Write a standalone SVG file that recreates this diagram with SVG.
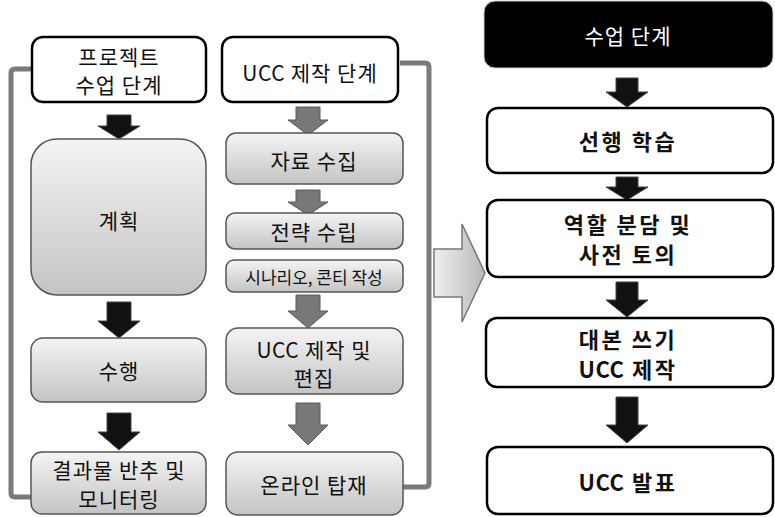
<svg xmlns="http://www.w3.org/2000/svg" width="775" height="517" viewBox="0 0 775 517">
<defs>
<linearGradient id="gbox" x1="0" y1="0" x2="0" y2="1">
<stop offset="0" stop-color="#f4f4f4"/>
<stop offset="1" stop-color="#c4c4c4"/>
</linearGradient>
<linearGradient id="gbig" x1="0" y1="0" x2="1" y2="0">
<stop offset="0" stop-color="#f0f0f0"/>
<stop offset="1" stop-color="#b8b8b8"/>
</linearGradient>
</defs>
<style>
text{font-family:"Noto Sans CJK KR","Noto Sans",sans-serif;text-anchor:middle;dominant-baseline:central;fill:#111}
.t{font-size:21px;letter-spacing:1px}
.s{font-size:17px}
.b{font-size:22px;font-weight:bold;letter-spacing:2.5px}
.u{letter-spacing:0.5px}
.white{fill:#fff;stroke:#000;stroke-width:2.5}
.gray{fill:url(#gbox);stroke:#555;stroke-width:1.5}
.blk{fill:#111;stroke:#444;stroke-width:1}
.gar{fill:#787878;stroke:#5a5a5a;stroke-width:1}
.br{fill:none;stroke:#7a7a7a;stroke-width:5;stroke-linejoin:round}
</style>
<g id="connectors">
<path class="br" d="M32,69 H15 Q11,69 11,73 V493 Q11,497 15,497 H32"/>
<path class="br" d="M400,63 H425 Q429,63 429,67 V483 Q429,487 425,487 H403"/>
<polygon class="blk" points="107,115 131,115 131,126 140,126 119,139 98,126 107,126"/>
<polygon class="blk" points="107,302 131,302 131,321 140,321 119,338 98,321 107,321"/>
<polygon class="blk" points="107,413 131,413 131,432 140,432 119,450 98,432 107,432"/>
<polygon class="gar" points="296,107 320,107 320,120 328,120 308,135 288,120 296,120"/>
<polygon class="gar" points="296,190 320,190 320,202 328,202 308,215 288,202 296,202"/>
<polygon class="gar" points="296,295 320,295 320,311 328,311 308,328 288,311 296,311"/>
<polygon class="gar" points="296,403 320,403 320,425 328,425 308,445 288,425 296,425"/>
<polygon class="blk" points="616,78 638,78 638,92 648,92 627,107 606,92 616,92"/>
<polygon class="blk" points="616,177 638,177 638,187 648,187 627,200 606,187 616,187"/>
<polygon class="blk" points="616,282 638,282 638,300 648,300 627,317 606,300 616,300"/>
<polygon class="blk" points="616,397 638,397 638,425 648,425 627,443 606,425 616,425"/>
<polygon fill="url(#gbig)" stroke="#777" stroke-width="1.5" points="434,249 462,249 462,224 485,273 462,322 462,297 434,297"/>
</g>
<g id="n-project">
<rect class="white" x="32" y="37" width="174" height="65" rx="11"/>
<text class="t" x="119" y="56">프로젝트</text>
<text class="t" x="119" y="84">수업 단계</text>
</g>
<g id="n-ucc-stage">
<rect class="white" x="222" y="37" width="176" height="65" rx="11"/>
<text class="t" x="310" y="72"><tspan class="u">UCC</tspan> 제작 단계</text>
</g>
<g id="n-plan">
<rect class="gray" x="31" y="139" width="175" height="156" rx="26"/>
<text class="t" x="119" y="220">계획</text>
</g>
<g id="n-do">
<rect class="gray" x="31" y="338" width="175" height="64" rx="12"/>
<text class="t" x="119" y="370">수행</text>
</g>
<g id="n-reflect">
<rect class="gray" x="31" y="452" width="175" height="62" rx="11"/>
<text class="t" x="119" y="469">결과물 반추 및</text>
<text class="t" x="119" y="498">모니터링</text>
</g>
<g id="n-collect">
<rect class="gray" x="226" y="133" width="177" height="51" rx="10"/>
<text class="t" x="314" y="160">자료 수집</text>
</g>
<g id="n-strategy">
<rect class="gray" x="226" y="213" width="177" height="36" rx="9"/>
<text class="t" x="314" y="231">전략 수립</text>
</g>
<g id="n-scenario">
<rect class="gray" x="226" y="260" width="177" height="32" rx="8"/>
<text class="s" x="314" y="276">시나리오, 콘티 작성</text>
</g>
<g id="n-edit">
<rect class="gray" x="226" y="328" width="177" height="66" rx="12"/>
<text class="t" x="314" y="349"><tspan class="u">UCC</tspan> 제작 및</text>
<text class="t" x="314" y="377">편집</text>
</g>
<g id="n-upload">
<rect class="gray" x="226" y="452" width="177" height="63" rx="12"/>
<text class="t" x="314" y="484">온라인 탑재</text>
</g>
<g id="n-class">
<rect x="484" y="1" width="289" height="67" rx="11" fill="#000" stroke="#ccc" stroke-width="1"/>
<text class="t" x="628" y="35" style="fill:#fff">수업 단계</text>
</g>
<g id="n-pre">
<rect class="white" x="487" y="108" width="286" height="65" rx="11"/>
<text class="b" x="628" y="140">선행 학습</text>
</g>
<g id="n-role">
<rect class="white" x="487" y="200" width="286" height="77" rx="11"/>
<text class="b" x="628" y="223">역할 분담 및</text>
<text class="b" x="628" y="253">사전 토의</text>
</g>
<g id="n-script">
<rect class="white" x="486" y="318" width="287" height="69" rx="11"/>
<text class="b" x="628" y="338">대본 쓰기</text>
<text class="b" x="628" y="368"><tspan class="u">UCC</tspan> 제작</text>
</g>
<g id="n-present">
<rect class="white" x="487" y="447" width="286" height="67" rx="11"/>
<text class="b" x="628" y="481"><tspan class="u">UCC</tspan> 발표</text>
</g>
</svg>
